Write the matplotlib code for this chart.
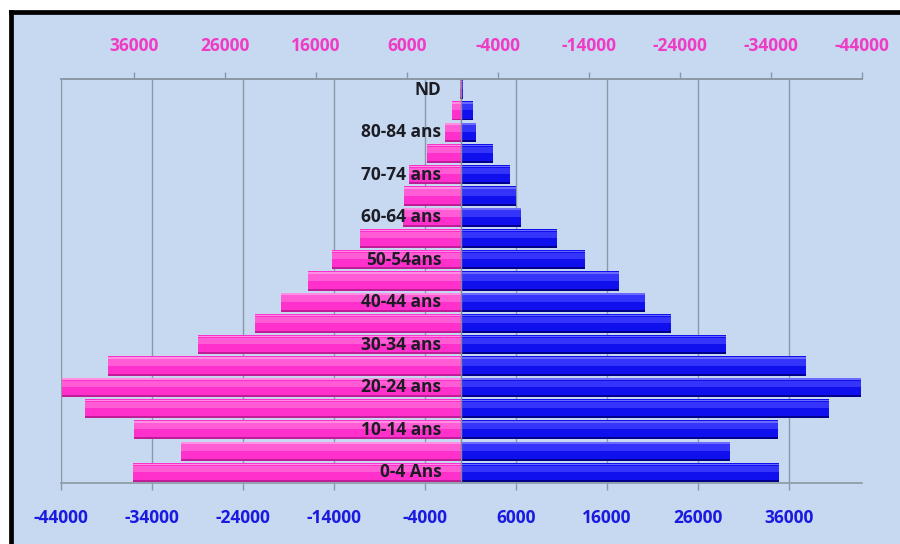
import matplotlib
matplotlib.use("Agg")
import matplotlib.pyplot as plt
from matplotlib.patches import Rectangle
from matplotlib.lines import Line2D
import numpy as np

# Age groups, bottom to top
age_groups = ['0-4 Ans', '5-9 ans', '10-14 ans', '15-19 ans', '20-24 ans',
              '25-29 ans', '30-34 ans', '35-39 ans', '40-44 ans', '45-49 ans',
              '50-54ans', '55-59 ans', '60-64 ans', '65-69 ans', '70-74 ans',
              '75-79 ans', '80-84 ans', '85 ans et +', 'ND']

# Population per age group (left side drawn as negative values)
pink_values = [36100, 30850, 35980, 41370, 43930, 38840, 28950, 22680, 19800,
               16900, 14230, 11100, 6450, 6300, 5760, 3800, 1800, 1070, 150]
blue_values = [34830, 29520, 34720, 40320, 43920, 37870, 29080, 23000, 20180,
               17340, 13580, 10480, 6550, 5970, 5340, 3510, 1570, 1240, 150]

bottom_ticks = [-44000, -34000, -24000, -14000, -4000, 6000, 16000, 26000, 36000]
top_ticks = [36000, 26000, 16000, 6000, -4000, -14000, -24000, -34000, -44000]

BG = '#c6d9f1'
PINK, PINK_LIGHT, PINK_TOP, PINK_DARK = '#ff30cc', '#ff5cd6', '#ff8fe3', '#c01c98'
BLUE, BLUE_LIGHT, BLUE_TOP, BLUE_DARK = '#1010ee', '#3434fa', '#6a6aff', '#00008a'
FONT = ['Open Sans', 'DejaVu Sans']

W, H = 900, 544
fig = plt.figure(figsize=(W / 100, H / 100), dpi=100)
fig.patch.set_facecolor('white')

# Chart area background and its black border (left and top edges on canvas)
fig.patches.append(Rectangle((10.5 / W, 0), 1.0, 1 - 11.5 / H,
                             transform=fig.transFigure, facecolor=BG,
                             edgecolor='none', zorder=-10))
fig.lines.append(Line2D([10.5 / W, 10.5 / W], [-0.02, 1 - 11.5 / H],
                        transform=fig.transFigure, color='black',
                        linewidth=3.4, solid_capstyle='projecting', zorder=-9))
fig.lines.append(Line2D([10.5 / W, 1.02], [1 - 11.5 / H, 1 - 11.5 / H],
                        transform=fig.transFigure, color='black',
                        linewidth=3.4, solid_capstyle='projecting', zorder=-9))

ax = fig.add_axes([61 / W, (H - 483) / H, 801 / W, 404 / H])
ax.set_facecolor(BG)

y = np.arange(len(age_groups))
left = -np.array(pink_values)
right = np.array(blue_values)
h = 0.9

def draw_bars(vals, base, light, top, dark):
    ax.barh(y, vals, height=h, color=base, zorder=3)
    ax.barh(y + 0.17, vals, height=0.3, color=light, zorder=3.1)
    ax.barh(y + 0.38, vals, height=0.07, color=top, zorder=3.2)
    ax.barh(y - 0.405, vals, height=0.09, color=dark, zorder=3.2)

draw_bars(left, PINK, PINK_LIGHT, PINK_TOP, PINK_DARK)
draw_bars(right, BLUE, BLUE_LIGHT, BLUE_TOP, BLUE_DARK)

ax.axvline(0, color='#7f8a96', linewidth=1.0, zorder=4)

ax.set_xlim(-44000, 44000)
ax.set_ylim(-0.5, len(age_groups) - 0.5)

ax.set_xticks(bottom_ticks)
ax.set_xticklabels([str(t) for t in bottom_ticks])
ax.grid(axis='x', color='#8c98a4', linewidth=1.0, zorder=1)
ax.set_axisbelow(True)
ax.tick_params(axis='x', direction='out', length=5, width=1, color='#8c98a4',
               labelcolor='#1a1ae0', pad=14, labelsize=12.5)
for lab in ax.get_xticklabels():
    lab.set_fontfamily(FONT)
    lab.set_fontweight('bold')

ax.set_yticks([])
for side in ['left', 'right']:
    ax.spines[side].set_visible(False)
for side in ['top', 'bottom']:
    ax.spines[side].set_color('#8c98a4')
    ax.spines[side].set_linewidth(1.2)

top = ax.secondary_xaxis('top', functions=(lambda v: -v, lambda v: -v))
top.set_xticks(top_ticks)
top.set_xticklabels([str(t) for t in top_ticks])
top.tick_params(axis='x', direction='out', length=5, width=1, color='#8c98a4',
                labelcolor='#f03cc4', pad=12, labelsize=12.5)
top.spines['top'].set_color('#8c98a4')
top.spines['top'].set_linewidth(1.2)
for lab in top.get_xticklabels():
    lab.set_fontfamily(FONT)
    lab.set_fontweight('bold')

# Age labels, every other group
for i in range(0, len(age_groups), 2):
    ax.annotate(age_groups[i], xy=(0, y[i]), xytext=(-14.5, 0),
                textcoords='offset points', ha='right', va='center',
                fontsize=12.5, fontweight='bold', color='#1c1c24',
                family=FONT, zorder=6)

fig.savefig('out.png', dpi=100)
